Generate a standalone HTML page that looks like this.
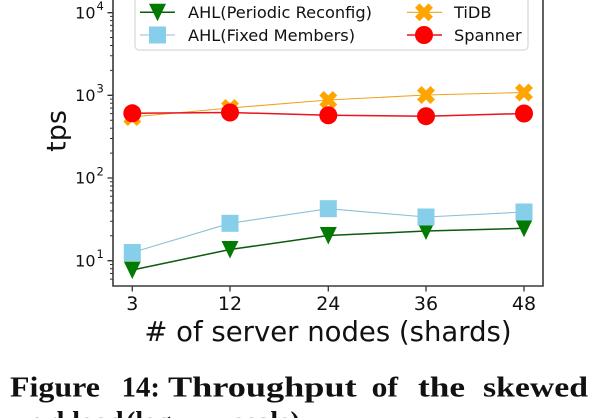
<!DOCTYPE html>
<html><head><meta charset="utf-8"><style>
html,body{margin:0;padding:0;background:#fff;}
svg{display:block;}
</style></head><body>
<svg width="600" height="418" viewBox="0 0 600 418" xmlns="http://www.w3.org/2000/svg" font-family="'DejaVu Sans','Liberation Sans',sans-serif">
<rect width="600" height="418" fill="#fff"/>
<!-- minor y ticks -->
<path d="M110 279.1H113M110 273.5H113M110 268.7H113M110 264.5H113
M110 235.8H113M110 221.2H113M110 210.9H113M110 202.9H113M110 196.3H113M110 190.8H113M110 186H113M110 181.8H113
M110 153.1H113M110 138.5H113M110 128.2H113M110 120.2H113M110 113.6H113M110 108.1H113M110 103.3H113M110 99.1H113
M110 70.4H113M110 55.8H113M110 45.5H113M110 37.5H113M110 30.9H113M110 25.4H113M110 20.6H113M110 16.4H113" stroke="#333" stroke-width="1"/>
<!-- major y ticks -->
<path d="M107.5 12.7H113M107.5 95.3H113M107.5 178H113M107.5 260.7H113" stroke="#333" stroke-width="1.3"/>
<!-- x ticks -->
<path d="M132.3 286V291.5M230 286V291.5M328.3 286V291.5M426 286V291.5M524 286V291.5" stroke="#333" stroke-width="1.3"/>

<!-- series: periodic -->
<polyline points="132.3,270 230,249.5 328.3,235.5 426,231 524,228.3" fill="none" stroke="#0d5a0d" stroke-width="1.5"/>
<g fill="#007a00">
<polygon points="123.8,261.5 140.8,261.5 132.3,279"/>
<polygon points="221.5,241 238.5,241 230,258.5"/>
<polygon points="319.8,227 336.8,227 328.3,244.5"/>
<polygon points="417.5,222.5 434.5,222.5 426,240"/>
<polygon points="515.5,219.8 532.5,219.8 524,237.3"/>
</g>
<!-- fixed -->
<polyline points="132.3,252.5 230,223.3 328.3,208.7 426,217 524,212" fill="none" stroke="#8ebfd6" stroke-width="1.1"/>
<g fill="#87ceeb">
<rect x="123.8" y="244" width="17" height="17"/>
<rect x="221.5" y="214.8" width="17" height="17"/>
<rect x="319.8" y="200.2" width="17" height="17"/>
<rect x="417.5" y="208.5" width="17" height="17"/>
<rect x="515.5" y="203.5" width="17" height="17"/>
</g>
<!-- tidb -->
<polyline points="132.3,117 230,108 328.3,100 426,95 524,92.5" fill="none" stroke="#f0a21e" stroke-width="1.1"/>
<defs>
<polygon id="xm" points="-1,-3 1,-3 1,-1 3,-1 3,1 1,1 1,3 -1,3 -1,1 -3,1 -3,-1 -1,-1"/>
</defs>
<g fill="#ffa500">
<use href="#xm" transform="translate(132.3,117) rotate(45) scale(3.17)"/>
<use href="#xm" transform="translate(230,108) rotate(45) scale(3.17)"/>
<use href="#xm" transform="translate(328.3,100) rotate(45) scale(3.17)"/>
<use href="#xm" transform="translate(426,95) rotate(45) scale(3.17)"/>
<use href="#xm" transform="translate(524,92.5) rotate(45) scale(3.17)"/>
</g>
<!-- spanner -->
<polyline points="132.3,113.3 230,112.5 328.3,115.3 426,116.2 524,113.5" fill="none" stroke="#e8141e" stroke-width="1.5"/>
<g fill="#ff0000">
<circle cx="132.3" cy="113.3" r="9"/>
<circle cx="230" cy="112.5" r="9"/>
<circle cx="328.3" cy="115.3" r="9"/>
<circle cx="426" cy="116.2" r="9"/>
<circle cx="524" cy="113.5" r="9"/>
</g>

<!-- legend -->
<rect x="135" y="-8" width="393" height="58" rx="4" fill="#fff" fill-opacity="0.85" stroke="#cfcfcf" stroke-width="1"/>
<line x1="140" y1="12.3" x2="175" y2="12.3" stroke="#0d5a0d" stroke-width="1.5"/>
<polygon points="149,3.8 166,3.8 157.5,21.3" fill="#007a00"/>
<line x1="140" y1="35" x2="175" y2="35" stroke="#8ebfd6" stroke-width="1.1"/>
<rect x="149" y="26.5" width="17" height="17" fill="#87ceeb"/>
<line x1="407" y1="12.3" x2="442" y2="12.3" stroke="#f0a21e" stroke-width="1.1"/>
<use href="#xm" transform="translate(424,12.3) rotate(45) scale(3.17)" fill="#ffa500"/>
<line x1="407" y1="35" x2="442" y2="35" stroke="#e8141e" stroke-width="1.5"/>
<circle cx="424" cy="35" r="9" fill="#ff0000"/>
<g font-size="16.2" fill="#111">
<text x="188" y="18.2">AHL(Periodic Reconfig)</text>
<text x="188" y="40.9">AHL(Fixed Members)</text>
<text x="454" y="18.2">TiDB</text>
<text x="454" y="40.9">Spanner</text>
</g>

<!-- spines -->
<path d="M113 -5V286H543V-5" fill="none" stroke="#3a3a3a" stroke-width="1.6"/>

<!-- y tick labels -->
<g fill="#111">
<text x="95.5" y="18.3" font-size="16" text-anchor="end">10</text><text x="96.5" y="10" font-size="11.5">4</text>
<text x="95.5" y="100.9" font-size="16" text-anchor="end">10</text><text x="96.5" y="92.6" font-size="11.5">3</text>
<text x="95.5" y="183.6" font-size="16" text-anchor="end">10</text><text x="96.5" y="175.3" font-size="11.5">2</text>
<text x="95.5" y="266.3" font-size="16" text-anchor="end">10</text><text x="96.5" y="258" font-size="11.5">1</text>
</g>
<!-- x tick labels -->
<g font-size="19" text-anchor="middle" fill="#111">
<text x="132.3" y="310">3</text>
<text x="230" y="310">12</text>
<text x="328.3" y="310">24</text>
<text x="426" y="310">36</text>
<text x="524" y="310">48</text>
</g>
<!-- axis labels -->
<text x="328" y="341" font-size="27.5" text-anchor="middle" fill="#111"># of server nodes (shards)</text>
<text transform="translate(65.5,131) rotate(-90)" font-size="27" text-anchor="middle" fill="#111">tps</text>

<!-- caption -->
<g font-family="'Liberation Serif',serif" font-weight="bold" font-size="28" fill="#111">
<text x="10" y="396.7" textLength="90" lengthAdjust="spacingAndGlyphs">Figure</text>
<text x="121.7" y="396.7" textLength="38.3" lengthAdjust="spacingAndGlyphs">14:</text>
<text x="168" y="396.7" textLength="188.7" lengthAdjust="spacingAndGlyphs">Throughput</text>
<text x="371.7" y="396.7" textLength="26.3" lengthAdjust="spacingAndGlyphs">of</text>
<text x="418" y="396.7" textLength="47" lengthAdjust="spacingAndGlyphs">the</text>
<text x="483" y="396.7" textLength="105" lengthAdjust="spacingAndGlyphs">skewed</text>
<text x="10" y="431">workload</text>
<text x="126" y="431">(log</text>
<text x="233" y="431">scale)</text>
</g>
</svg>
</body></html>
